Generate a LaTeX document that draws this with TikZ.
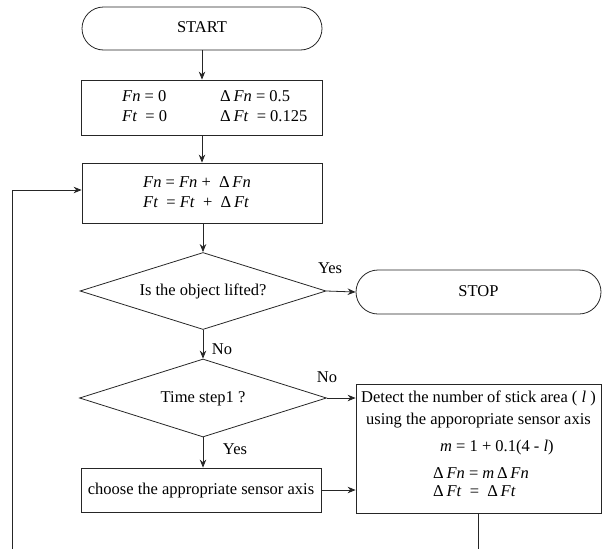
\documentclass[tikz,border=0pt]{standalone}
\usepackage{fontspec}
\setmainfont{Liberation Serif}
\usetikzlibrary{shapes.geometric,shapes.misc,arrows.meta}
\begin{document}
\begin{tikzpicture}[x=1pt,y=-1pt,
  every node/.style={font=\fontsize{16.5}{20}\selectfont, inner sep=0pt, text height=11.5pt, text depth=3.5pt},
  line/.style={line width=0.8pt, draw=black!85},
  arr/.style={line, -{Stealth[length=8pt,width=6.5pt]}},
  term/.style={rounded rectangle, draw=black!85, line width=0.8pt, minimum width=240pt, minimum height=43pt},
  procbox/.style={rectangle, draw=black!85, line width=0.8pt},
  decision/.style={diamond, draw=black!85, line width=0.8pt, aspect=3}
]
\useasboundingbox (0,0) rectangle (615,549);

% terminals
\node[term] (start) at (202,28.5) {START};
\node[term, minimum width=245pt, minimum height=44pt] (stop) at (478.5,292) {STOP};

% initial box
\node[procbox, minimum width=241pt, minimum height=55pt] (init) at (202,107.5) {};
\node[anchor=west] (i1) at (122,97) {\textit{Fn} = 0};
\node[anchor=west] (i2) at (122,117) {\textit{Ft}\ \ = 0};
\node[anchor=west] (i3) at (220,97) {Δ\,\textit{Fn} = 0.5};
\node[anchor=west] (i4) at (220,117) {Δ\,\textit{Ft}\ \ = 0.125};

% update box
\node[procbox, minimum width=240pt, minimum height=60pt] (upd) at (202,193) {};
\node[anchor=west] (u1) at (143,183) {\textit{Fn} = \textit{Fn} + \ Δ\,\textit{Fn}};
\node[anchor=west] (u2) at (143,203) {\textit{Ft}\ \ = \textit{Ft}\ \ + \ Δ\,\textit{Ft}};

% decisions
\node[decision, minimum width=246pt, minimum height=77pt] (d1) at (203,291) {Is the object lifted?};
\node[decision, minimum width=247pt, minimum height=78pt] (d2) at (203,398) {Time step1 ?};

% choose box
\node[procbox, minimum width=240pt, minimum height=44pt] (choose) at (201,490) {choose the appropriate sensor axis};

% detect box
\node[procbox, minimum width=245pt, minimum height=129pt] (detect) at (478.5,448.5) {};
\node (t1) at (478.5,398) {Detect the number of stick area ( \textit{l} )};
\node (t2) at (478.5,420) {using the apporopriate sensor axis};
\node[anchor=west] (t3) at (440,447) {\textit{m} = 1 + 0.1(4 - \textit{l})};
\node[anchor=west] (t4) at (433,474) {Δ\,\textit{Fn} = \textit{m}\,Δ\,\textit{Fn}};
\node[anchor=west] (t5) at (433,492) {Δ\,\textit{Ft}\ \ = \ Δ\,\textit{Ft}};

% labels
\node (yes1) at (330,269) {Yes};
\node (no1) at (222,350) {No};
\node (no2) at (327,378) {No};
\node (yes2) at (235,450) {Yes};

% connectors
\coordinate (bot) at (0,549);
\coordinate (lb) at (12,549);
\draw[arr] (start.south) -- (start.south |- init.north);
\draw[arr] (init.south) -- (init.south |- upd.north);
\draw[arr] (upd.south -| d1.north) -- (d1.north);
\draw[arr] (d1.east) -- (stop.west);
\draw[arr] (d1.south) -- (d2.north);
\draw[arr] (d2.east) -- (d2.east -| detect.west);
\draw[arr] (d2.south) -- (d2.south |- choose.north);
\draw[arr] (choose.east) -- (choose.east -| detect.west);
\draw[line] (detect.south) -- (detect.south |- bot);
\draw[arr] (lb) |- ([yshift=3pt]upd.west);
\end{tikzpicture}
\end{document}
